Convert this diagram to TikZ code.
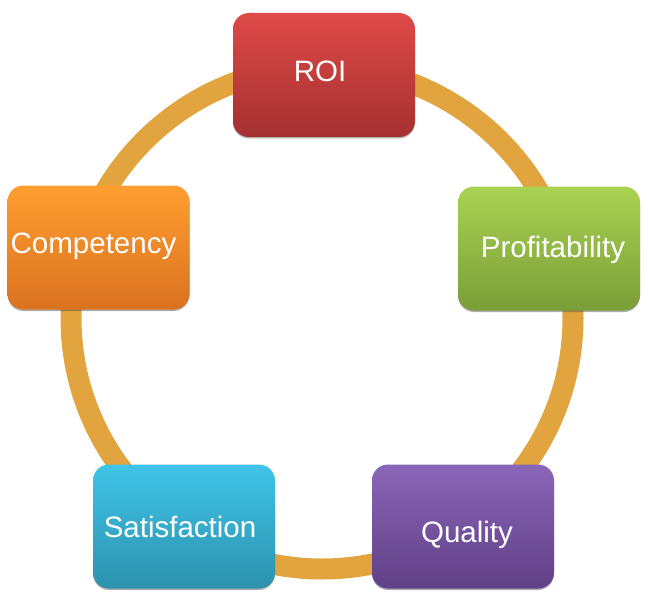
\documentclass[tikz,border=0pt]{standalone}
\usepackage{fontspec}
\setmainfont{Liberation Sans}
\usetikzlibrary{shadows}
\definecolor{ringc}{HTML}{E2A43F}
\tikzset{
  box/.style={rounded corners=16pt, minimum width=182pt, minimum height=124pt,
    inner sep=0pt, draw=none,
    drop shadow={shadow xshift=0pt, shadow yshift=-1.5pt, opacity=0.45, fill=black!70}},
  lbl/.style={text=white, font=\fontsize{29.5}{31}\selectfont, anchor=base, inner sep=0pt}
}
\begin{document}
\begin{tikzpicture}[x=1pt,y=-1pt]
\useasboundingbox (0,0) rectangle (648,599);
\draw[ringc, line width=21pt] (322,318) circle[radius=251pt];
\node[box, top color={rgb,255:red,222;green,74;blue,72}, bottom color={rgb,255:red,165;green,48;blue,48}] (roi) at (324,75) {};
\node[box, top color={rgb,255:red,255;green,158;blue,48}, bottom color={rgb,255:red,218;green,114;blue,32}] (comp) at (98.5,247.5) {};
\node[box, top color={rgb,255:red,170;green,210;blue,82}, bottom color={rgb,255:red,122;green,158;blue,56}] (prof) at (549,248.5) {};
\node[box, top color={rgb,255:red,64;green,196;blue,232}, bottom color={rgb,255:red,44;green,146;blue,174}] (sat) at (184,526.5) {};
\node[box, top color={rgb,255:red,138;green,102;blue,184}, bottom color={rgb,255:red,96;green,64;blue,134}] (qual) at (463,526.5) {};
\node[lbl] (roiT) at (320,82) {ROI};
\node[lbl] (compT) at (93.5,253) {Competency};
\node[lbl] (profT) at (553,257) {Profitability};
\node[lbl] (satT) at (180,537) {Satisfaction};
\node[lbl] (qualT) at (467,542) {Quality};
\end{tikzpicture}
\end{document}
